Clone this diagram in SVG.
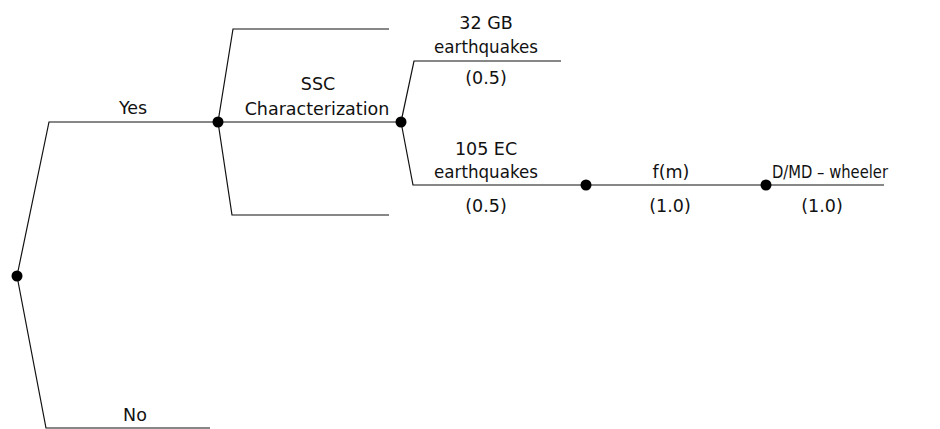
<svg xmlns="http://www.w3.org/2000/svg" width="940" height="429" viewBox="0 0 940 429">
  <style>
    .branch { fill: none; stroke: #111; stroke-width: 1.2; }
    .dot { fill: #000; }
    text { font-family: "DejaVu Sans", "Liberation Sans", sans-serif; font-size: 17.5px; fill: #111; text-anchor: middle; }
  </style>
  <rect width="940" height="429" fill="#fff"/>

  <!-- tree branches -->
  <g id="connectors">
    <polyline class="branch" points="17,276 49,122 218,122"/>
    <polyline class="branch" points="17,276 46,428 210,428"/>
    <polyline class="branch" points="218,122 233,29 389,29"/>
    <polyline class="branch" points="218,122 232,215 389,215"/>
    <line class="branch" x1="218" y1="122" x2="401" y2="122"/>
    <polyline class="branch" points="401,122 414,61 561,61"/>
    <polyline class="branch" points="401,122 413,185 586,185"/>
    <line class="branch" x1="586" y1="185" x2="766" y2="185"/>
    <line class="branch" x1="766" y1="185" x2="884" y2="185"/>
  </g>

  <!-- chance nodes -->
  <g id="node-root"><circle class="dot" cx="17" cy="276" r="5.5"/></g>
  <g id="node-ssc"><circle class="dot" cx="218" cy="122" r="5.5"/></g>
  <g id="node-catalog"><circle class="dot" cx="401" cy="122" r="5.5"/></g>
  <g id="node-fm"><circle class="dot" cx="586" cy="185" r="5.5"/></g>
  <g id="node-dmd"><circle class="dot" cx="766" cy="185" r="5.5"/></g>

  <!-- branch labels -->
  <g id="labels">
    <text x="133" y="114">Yes</text>
    <text x="135" y="421">No</text>
    <text x="318" y="90">SSC</text>
    <text x="317" y="115">Characterization</text>
    <text x="486" y="29">32 GB</text>
    <text x="486" y="53" textLength="104" lengthAdjust="spacingAndGlyphs">earthquakes</text>
    <text x="486" y="84">(0.5)</text>
    <text x="486" y="155">105 EC</text>
    <text x="486" y="178" textLength="104" lengthAdjust="spacingAndGlyphs">earthquakes</text>
    <text x="486" y="212">(0.5)</text>
    <text x="671" y="178">f(m)</text>
    <text x="670" y="212">(1.0)</text>
    <text x="830" y="178" textLength="116" lengthAdjust="spacingAndGlyphs">D/MD – wheeler</text>
    <text x="822" y="212">(1.0)</text>
  </g>
</svg>
